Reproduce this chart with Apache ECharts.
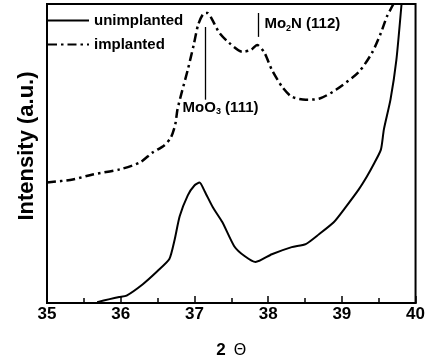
<!DOCTYPE html>
<html>
<head>
<meta charset="utf-8">
<script src="https://cdn.jsdelivr.net/npm/echarts@6/dist/echarts.min.js"></script>
<style>
  html, body { margin: 0; padding: 0; background: #fff; }
  #chart { width: 428px; height: 364px; }
</style>
</head>
<body>
<div id="chart"></div>
<script>
// XRD scan, 2θ vs intensity (arbitrary units, 0..100 across the frame)
const unimplanted = [
  [35.68, 0.3], [35.85, 1.3], [35.98, 2.0], [36.08, 2.5], [36.30, 6.3], [36.50, 10.7],
  [36.66, 14.7], [36.73, 21], [36.80, 29], [36.91, 36], [37.00, 39.3], [37.07, 40.3],
  [37.14, 37.3], [37.25, 32], [37.38, 27], [37.54, 19], [37.68, 15.7], [37.83, 13.7],
  [38.05, 16.3], [38.32, 18.7], [38.51, 19.7], [38.69, 23], [38.89, 27], [39.05, 32],
  [39.23, 38], [39.34, 42.3], [39.43, 46.3], [39.53, 51.3], [39.57, 58], [39.66, 68],
  [39.74, 81.3], [39.81, 100]
];
const implanted = [
  [35.00, 40.3], [35.35, 41.3], [35.62, 43], [35.99, 44.7], [36.26, 47], [36.43, 50.3],
  [36.59, 52.7], [36.68, 55.3], [36.74, 59.7], [36.77, 64.7], [36.82, 69.7], [36.91, 78],
  [36.99, 86.3], [37.05, 93], [37.12, 96.7], [37.18, 97], [37.23, 95.3], [37.34, 90.3],
  [37.47, 87], [37.65, 84], [37.77, 84.7], [37.85, 86.3], [37.95, 83.7], [38.05, 78],
  [38.19, 72.3], [38.32, 69], [38.51, 68], [38.69, 68.3], [38.92, 71.3], [39.23, 77.3],
  [39.41, 83.7], [39.53, 90.3], [39.61, 95.7], [39.70, 100]
];
// peak markers: x, line from y0 to y1, label anchor (left, middle)
const peakLabels = ['{t|MoO}{s|3}{t| (111)}', '{t|Mo}{s|2}{t|N (112)}'];
const peakX = [37.15, 37.86];
const peakY = [[68, 92.3], [89, 97]];
const labelAt = [[36.84, 65.3], [37.95, 93.3]];

const FONT = '"Liberation Sans", Arial, sans-serif';
const chart = echarts.init(document.getElementById('chart'), null, { renderer: 'canvas' });

const rich = {
  t: { fontFamily: FONT, fontWeight: 'bold', fontSize: 15, color: '#000' },
  s: { fontFamily: FONT, fontWeight: 'bold', fontSize: 9, color: '#000', padding: [8, 0, 0, 0] }
};

chart.setOption({
  animation: false,
  backgroundColor: '#fff',
  grid: {
    left: 47, right: 10, top: 4, bottom: 60,
    show: true, borderColor: '#000', borderWidth: 2, backgroundColor: 'transparent'
  },
  legend: {
    orient: 'vertical', left: 42, top: 8,
    itemWidth: 41, itemHeight: 14, itemGap: 9,
    data: ['unimplanted', 'implanted'],
    itemStyle: { opacity: 0 },
    textStyle: { fontFamily: FONT, fontWeight: 'bold', fontSize: 15, color: '#000' }
  },
  xAxis: {
    type: 'value', min: 35, max: 40, interval: 1,
    name: '{a|2}{b|Θ}', nameLocation: 'middle', nameGap: 39,
    nameTextStyle: {
      rich: {
        a: { fontFamily: FONT, fontWeight: 'bold', fontSize: 17, color: '#000' },
        b: { fontFamily: FONT, fontSize: 16, color: '#000', padding: [0, 0, 0, 8] }
      }
    },
    axisLine: { lineStyle: { color: '#000', width: 2 } },
    axisTick: { inside: true, length: 7, lineStyle: { color: '#000', width: 1.5 } },
    minorTick: { show: true, splitNumber: 2, length: 5, lineStyle: { color: '#000', width: 1.5 } },
    splitLine: { show: false },
    axisLabel: { margin: 3, fontFamily: FONT, fontWeight: 'bold', fontSize: 17, color: '#000' }
  },
  yAxis: {
    type: 'value', min: 0, max: 100,
    name: 'Intensity (a.u.)', nameLocation: 'middle', nameGap: 9,
    nameTextStyle: { fontFamily: FONT, fontWeight: 'bold', fontSize: 22, color: '#000', padding: [0, 0, 0, 15] },
    axisLine: { show: true, lineStyle: { color: '#000', width: 2 } },
    axisTick: { show: false },
    axisLabel: { show: false },
    splitLine: { show: false }
  },
  series: [
    {
      name: 'unimplanted', type: 'line', data: unimplanted,
      smooth: 0.2, symbol: 'none', clip: true,
      lineStyle: { color: '#000', width: 2 },
      itemStyle: { color: '#000' }
    },
    {
      name: 'implanted', type: 'line', data: implanted,
      smooth: 0.25, symbol: 'none', clip: true,
      lineStyle: { color: '#000', width: 2.5, type: [9, 4, 2.5, 4] },
      itemStyle: { color: '#000' },
      markLine: {
        silent: true, symbol: 'none', animation: false,
        lineStyle: { color: '#000', width: 1.3, type: 'solid' },
        label: { show: false },
        data: peakX.map((x, i) => [{ coord: [x, peakY[i][0]] }, { coord: [x, peakY[i][1]] }])
      },
      markPoint: {
        silent: true, symbol: 'rect', symbolSize: 0, animation: false,
        data: labelAt.map((c, i) => ({
          coord: c,
          label: { show: true, position: 'right', distance: 0, formatter: peakLabels[i], rich }
        }))
      }
    }
  ]
});
</script>
</body>
</html>
